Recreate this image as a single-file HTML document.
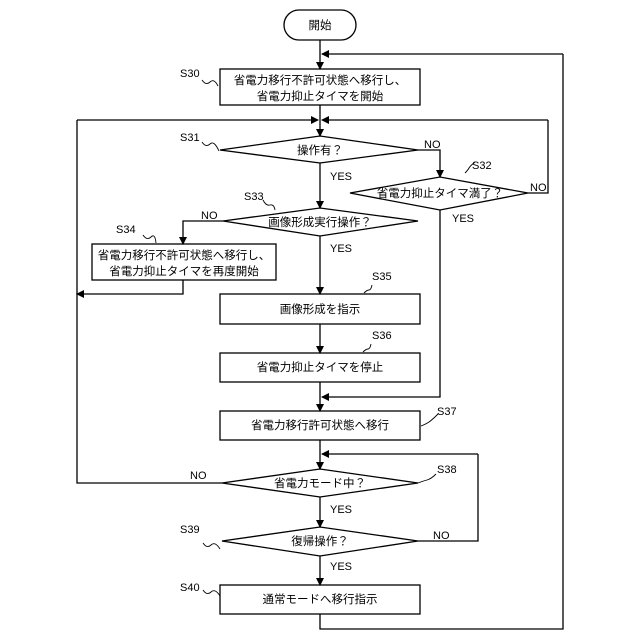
<!DOCTYPE html>
<html><head><meta charset="utf-8"><style>body{margin:0;background:#fff}svg{display:block}</style></head><body>
<svg width="640" height="640" viewBox="0 0 640 640" xmlns="http://www.w3.org/2000/svg" font-family="'Liberation Sans','Noto Sans CJK JP',sans-serif">
<defs><marker id="a" markerWidth="8" markerHeight="8" refX="7" refY="4" orient="auto" markerUnits="userSpaceOnUse"><path d="M0,0 L8,4 L0,8z" fill="#000"/></marker></defs>
<g fill="none" stroke="#000" stroke-width="1.3">
<rect x="284" y="10" width="72" height="30" rx="15" fill="#fff"/>
<rect x="220" y="69" width="200" height="36"/>
<path d="M220,150 L320,136 L418,150 L320,163z"/>
<path d="M350,193 L440,177 L528,193 L440,210z"/>
<path d="M223,221 L320,208 L418,221 L320,236z"/>
<rect x="92" y="244" width="184" height="36"/>
<rect x="220" y="294" width="200" height="30"/>
<rect x="220" y="353" width="200" height="29"/>
<rect x="220" y="411" width="200" height="29"/>
<path d="M222,483 L320,469 L418,483 L320,497z"/>
<path d="M222,541 L320,527 L418,541 L320,556z"/>
<rect x="220" y="585" width="200" height="29"/>
<!-- connectors -->
<path d="M320,40 V69" marker-end="url(#a)"/>
<path d="M563,54 H322" marker-end="url(#a)"/>
<path d="M320,105 V136" marker-end="url(#a)"/>
<path d="M77,120 H318" marker-end="url(#a)"/>
<path d="M548,120 H322" marker-end="url(#a)"/>
<path d="M418,150 H440 V177" marker-end="url(#a)"/>
<path d="M528,193 H548 V120"/>
<path d="M440,210 V397 H322" marker-end="url(#a)"/>
<path d="M320,163 V208" marker-end="url(#a)"/>
<path d="M223,221 H183 V244" marker-end="url(#a)"/>
<path d="M183,280 V294 H77" marker-end="url(#a)"/>
<path d="M320,236 V294" marker-end="url(#a)"/>
<path d="M320,324 V353" marker-end="url(#a)"/>
<path d="M320,382 V411" marker-end="url(#a)"/>
<path d="M320,440 V469" marker-end="url(#a)"/>
<path d="M222,483 H77 V120"/>
<path d="M478,454 H322" marker-end="url(#a)"/>
<path d="M320,497 V527" marker-end="url(#a)"/>
<path d="M418,541 H478 V454"/>
<path d="M320,556 V585" marker-end="url(#a)"/>
<path d="M320,614 V629 H563 V54"/>
<!-- squiggles -->
<g stroke-width="0.9">
<path d="M202,80 q4,6 8,2 t8,4"/>
<path d="M202,142 q4,6 8,2 t9,7"/>
<path d="M465,173 q3,-3 4,-5 t6,-6"/>
<path d="M263,200 q3,6 7,5 t5,5"/>
<path d="M143,235 q4,6 8,2 t5,6"/>
<path d="M364,293 q3,-3 5,-3 t3,-5"/>
<path d="M363,352 q3,-3 5,-3 t3,-5"/>
<path d="M421,426 q5,-2 8,-4 t9,-8"/>
<path d="M418,483 q5,-2 9,-3 t9,-6"/>
<path d="M203,543 q4,6 8,2 t9,4"/>
<path d="M203,590 q4,6 8,2 t9,4"/>
</g>
</g>
<g font-size="11.5" text-anchor="middle" fill="#000">
<text x="320" y="29">開始</text>
<text x="320" y="84">省電力移行不許可状態へ移行し、</text>
<text x="320" y="100">省電力抑止タイマを開始</text>
<text x="320" y="154">操作有？</text>
<text x="440" y="197">省電力抑止タイマ満了？</text>
<text x="320" y="226">画像形成実行操作？</text>
<text x="184" y="259">省電力移行不許可状態へ移行し、</text>
<text x="184" y="275">省電力抑止タイマを再度開始</text>
<text x="320" y="313">画像形成を指示</text>
<text x="320" y="371">省電力抑止タイマを停止</text>
<text x="320" y="429">省電力移行許可状態へ移行</text>
<text x="320" y="487">省電力モード中？</text>
<text x="320" y="545">復帰操作？</text>
<text x="320" y="603">通常モードへ移行指示</text>
</g>
<g font-size="11" fill="#000">
<text x="180" y="77">S30</text>
<text x="180" y="141">S31</text>
<text x="472" y="169">S32</text>
<text x="244" y="200">S33</text>
<text x="116" y="233">S34</text>
<text x="372" y="280">S35</text>
<text x="372" y="339">S36</text>
<text x="437" y="415">S37</text>
<text x="437" y="473">S38</text>
<text x="180" y="533">S39</text>
<text x="180" y="591">S40</text>
<text x="424" y="148">NO</text>
<text x="530" y="191">NO</text>
<text x="330" y="180">YES</text>
<text x="452" y="222">YES</text>
<text x="201" y="219">NO</text>
<text x="330" y="252">YES</text>
<text x="190" y="479">NO</text>
<text x="330" y="513">YES</text>
<text x="433" y="539">NO</text>
<text x="330" y="570">YES</text>
</g>
</svg>
</body></html>
